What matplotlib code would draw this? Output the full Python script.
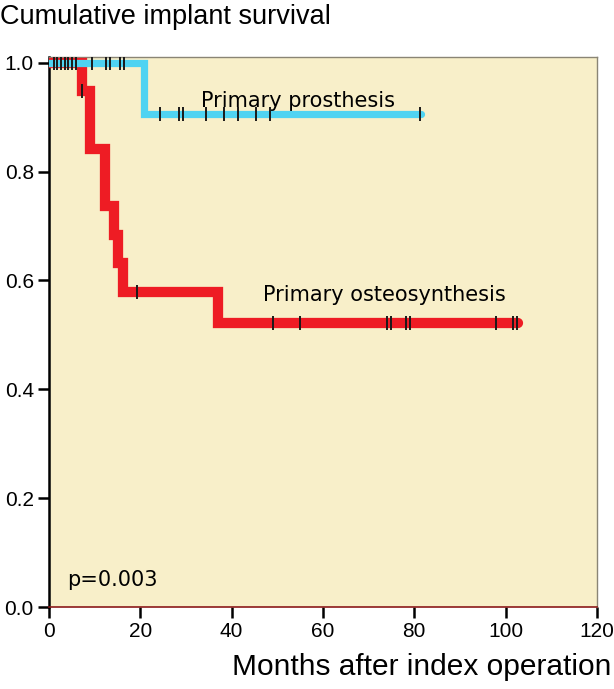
import numpy as np
import matplotlib
matplotlib.use("Agg")
import matplotlib.pyplot as plt

# survival step curves (months, cumulative survival)
prosthesis_t = [0, 20.7, 81.5]
prosthesis_s = [1.0, 0.905, 0.905]
osteo_t = [0, 7.3, 9.0, 12.3, 14.3, 15.1, 16.2, 37.1, 102.8]
osteo_s = [1.0, 0.947, 0.842, 0.737, 0.684, 0.632, 0.579, 0.521, 0.521]

# censored observations
prosthesis_cens = [1.0, 1.8, 2.6, 3.4, 4.2, 5.0, 5.8, 9.3, 12.5, 13.4, 15.5, 16.4,
                   24.3, 28.4, 29.3, 34.3, 38.3, 41.3, 45.4, 48.4, 81.3]
osteo_cens = [7.3, 19.3, 49.1, 55.0, 74.1, 74.8, 78.1, 79.0, 98.0, 101.6, 102.6]


def step_value(t_list, s_list, x):
    idx = np.searchsorted(t_list, x, side="right") - 1
    return s_list[idx]


fig = plt.figure(figsize=(6.14, 6.89), dpi=100)
ax = fig.add_axes([0.080, 0.119, 0.892, 0.798])
ax.set_facecolor("#f8efc9")

ax.plot(osteo_t, osteo_s, drawstyle="steps-post", color="#ee1c24", lw=7.4,
        solid_capstyle="round", solid_joinstyle="miter", zorder=3)
ax.plot(prosthesis_t, prosthesis_s, drawstyle="steps-post", color="#4fd3f2", lw=5.2,
        solid_capstyle="round", solid_joinstyle="miter", zorder=4)

ax.plot(osteo_cens, [step_value(osteo_t, osteo_s, x) for x in osteo_cens], ls="none",
        marker="|", ms=10, mew=1.4, color="#1a1a1a", zorder=5)
ax.plot(prosthesis_cens, [step_value(prosthesis_t, prosthesis_s, x) for x in prosthesis_cens],
        ls="none", marker="|", ms=10, mew=1.4, color="#1a1a1a", zorder=5)

ax.text(54.5, 0.93, "Primary prosthesis", fontsize=15, family="DejaVu Sans",
        ha="center", va="center")
ax.text(73.5, 0.573, "Primary osteosynthesis", fontsize=15, family="DejaVu Sans",
        ha="center", va="center")
ax.text(4, 0.05, "p=0.003", fontsize=15, family="DejaVu Sans", ha="left", va="center")

ax.set_xlim(0, 120)
ax.set_ylim(0, 1.01)
ax.set_xticks(np.arange(0, 121, 20))
ax.set_yticks(np.arange(0, 1.01, 0.2))
ax.set_yticklabels([f"{v:.1f}" for v in np.arange(0, 1.01, 0.2)])
ax.tick_params(direction="out", length=8, width=1.8, labelsize=15, color="black", pad=3)
for lab in ax.get_xticklabels() + ax.get_yticklabels():
    lab.set_family("Liberation Sans")

ax.spines["left"].set_linewidth(1.8)
ax.spines["left"].set_color("black")
ax.spines["bottom"].set_linewidth(1.2)
ax.spines["bottom"].set_color("#8b1a1a")
for side in ["top", "right"]:
    ax.spines[side].set_color("#8a8575")
    ax.spines[side].set_linewidth(1.0)

fig.text(0.0, 0.976, "Cumulative implant survival", fontsize=19.5, family="Liberation Sans",
         ha="left", va="center")
fig.text(0.995, 0.032, "Months after index operation", fontsize=21.5, family="Liberation Sans",
         ha="right", va="center")

fig.savefig("out.png", dpi=100)
